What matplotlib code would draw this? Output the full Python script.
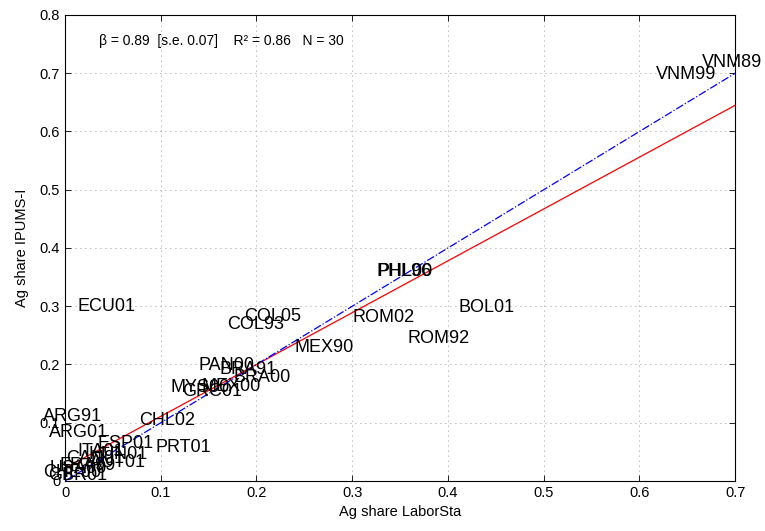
import numpy as np
import matplotlib
matplotlib.use('Agg')
import matplotlib.pyplot as plt

plt.rcParams['font.family'] = ['Liberation Sans', 'DejaVu Sans']

# country-year labels with (LaborSta, IPUMS-I) ag shares
labels = ['VNM89', 'VNM99', 'PHL96', 'PHL00', 'BOL01', 'ROM02', 'ROM92',
          'ECU01', 'COL05', 'COL93', 'MEX90', 'PAN00', 'BRA91', 'BRA00',
          'MYS00', 'MEX00', 'GRC01', 'CHL02', 'ARG91', 'ARG01', 'PRT01',
          'ESP01', 'ITA01', 'HUN01', 'CAN01', 'AUT01', 'FRA99', 'USA00',
          'CHE00', 'GBR01']
ag_laborsta = [0.697, 0.649, 0.354, 0.355, 0.440, 0.333, 0.390,
               0.043, 0.217, 0.199, 0.271, 0.169, 0.191, 0.206,
               0.141, 0.174, 0.154, 0.107, 0.008, 0.014, 0.124,
               0.063, 0.037, 0.055, 0.032, 0.055, 0.024, 0.014,
               0.007, 0.013]
ag_ipums = [0.718, 0.697, 0.359, 0.359, 0.297, 0.280, 0.244,
            0.299, 0.283, 0.268, 0.230, 0.199, 0.192, 0.178,
            0.160, 0.163, 0.153, 0.103, 0.110, 0.084, 0.058,
            0.064, 0.050, 0.045, 0.039, 0.031, 0.026, 0.022,
            0.015, 0.010]

# regression fit
beta = 0.89
se = 0.07
intercept = 0.022
r2 = 0.86

fig = plt.figure(figsize=(7.65, 5.31), dpi=100)
ax = fig.add_axes([0.085, 0.0942, 0.876, 0.8776])

x = np.array(ag_laborsta)
y = np.array(ag_ipums)

for lab, xi, yi in zip(labels, x, y):
    ax.text(xi, yi, lab, ha='center', va='center', fontsize=13,
            clip_on=False)

xf = np.array([0.003, 0.7])
ax.plot(xf, intercept + beta * xf, color='red', linewidth=0.9)
xd = np.array([0.0, 0.7])
ax.plot(xd, xd, color='blue', linewidth=0.9, linestyle='-.')

ax.text(0.035, 0.756,
        u'\u03b2 = %.2f  [s.e. %.2f]    R\u00b2 = %.2f   N = %d'
        % (beta, se, r2, len(labels)),
        fontsize=10, ha='left', va='center')

ax.set_xlim(0, 0.7)
ax.set_ylim(0, 0.8)
ax.set_xticks(np.arange(0, 0.71, 0.1))
ax.set_yticks(np.arange(0, 0.81, 0.1))
ax.set_xticklabels(['0', '0.1', '0.2', '0.3', '0.4', '0.5', '0.6', '0.7'])
ax.set_yticklabels(['0', '0.1', '0.2', '0.3', '0.4', '0.5', '0.6', '0.7', '0.8'])
ax.tick_params(direction='in', top=True, right=True, labelsize=10.5,
               length=4, width=0.6)
ax.grid(True, linestyle=(0, (1, 5)), color='#777777', linewidth=0.6)
for s in ax.spines.values():
    s.set_linewidth(0.8)

ax.set_xlabel('Ag share LaborSta', fontsize=10.5, labelpad=4)
ax.set_ylabel('Ag share IPUMS-I', fontsize=10.5, labelpad=8)

fig.savefig('out.png', dpi=100)
